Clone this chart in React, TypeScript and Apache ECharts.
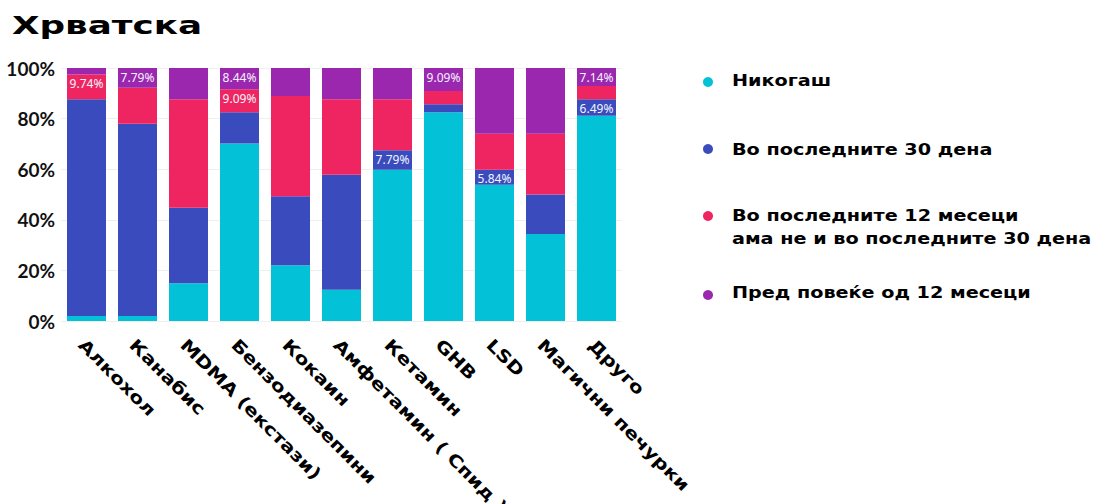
import React, { useEffect, useRef } from "react";
import * as echarts from "echarts";

const title = "Хрватска";
const categories = [
  "Алкохол",
  "Канабис",
  "MDMA (екстази)",
  "Бензодиазепини",
  "Кокаин",
  "Амфетамин ( Спид )",
  "Кетамин",
  "GHB",
  "LSD",
  "Магични печурки",
  "Друго",
];
const seriesNames = [
  "Никогаш",
  "Во последните 30 дена",
  "Во последните 12 месеци ама не и во последните 30 дена",
  "Пред повеќе од 12 месеци",
];
const legendLabels = [
  "Никогаш",
  "Во последните 30 дена",
  "Во последните 12 месеци\nама не и во последните 30 дена",
  "Пред повеќе од 12 месеци",
];
const colors = ["#03C2D7", "#3A4CBD", "#EE2560", "#9B27AF"];

const never = [1.95, 1.95, 14.94, 70.13, 22.08, 12.34, 59.74, 82.47, 53.9, 34.42, 81.17];
const last30 = [85.71, 75.97, 29.87, 12.34, 27.27, 45.45, 7.79, 3.25, 5.84, 15.58, 6.49];
const last12 = [9.74, 14.29, 42.86, 9.09, 39.61, 29.87, 20.13, 5.19, 14.29, 24.03, 5.19];
const older = [2.6, 7.79, 12.34, 8.44, 11.04, 12.34, 12.34, 9.09, 25.97, 25.97, 7.14];

// indices of bars whose segment shows a value label
const shownNever: number[] = [];
const shownLast30 = [6, 8, 10];
const shownLast12 = [0, 3];
const shownOlder = [1, 3, 7, 10];

const HEAVY = "DejaVu Sans";

export default function App() {
  const ref = useRef<HTMLDivElement>(null);
  useEffect(() => {
    document.body.style.margin = "0";
    const chart = echarts.init(ref.current!, null, { renderer: "svg" });
    const mk = (name: string, data: number[], color: string, shown: number[]) => ({
      name,
      type: "bar",
      stack: "total",
      barWidth: 39,
      itemStyle: { color },
      label: {
        show: false,
        position: "insideTop",
        distance: 3,
        color: "#f4f4ff",
        fontFamily: "Noto Sans",
        fontSize: 12,
        formatter: (p: any) => `${Number(p.value).toFixed(2)}%`,
      },
      data: data.map((v, i) => (shown.includes(i) ? { value: v, label: { show: true } } : v)),
    });
    chart.setOption({
      animation: false,
      grid: { left: 61, right: 483, top: 68, bottom: 183 },
      xAxis: {
        type: "category",
        data: categories,
        axisLine: { show: false },
        axisTick: { show: false },
        axisLabel: { show: false },
      },
      yAxis: {
        type: "value",
        min: 0,
        max: 100,
        interval: 20,
        axisLabel: {
          formatter: "{value}%",
          fontFamily: "Lato",
          fontWeight: "bold",
          fontSize: 19,
          color: "#111",
          margin: 6,
        },
        splitLine: { lineStyle: { color: "#efefef" } },
      },
      series: [
        mk(seriesNames[0], never, colors[0], shownNever),
        mk(seriesNames[1], last30, colors[1], shownLast30),
        mk(seriesNames[2], last12, colors[2], shownLast12),
        mk(seriesNames[3], older, colors[3], shownOlder),
      ],
    });

    const y0 = chart.convertToPixel({ yAxisIndex: 0 }, 0) as number;
    const elements: any[] = [];
    elements.push({
      type: "text",
      x: 12,
      y: 25,
      scaleX: 1.43,
      style: {
        text: title,
        fontFamily: HEAVY,
        fontWeight: "bold",
        fontSize: 25,
        fill: "#000",
        align: "left",
        textAlign: "left",
        verticalAlign: "middle",
        textVerticalAlign: "middle",
      },
    });
    categories.forEach((c, i) => {
      const x = chart.convertToPixel({ xAxisIndex: 0 }, i) as number;
      elements.push({
        type: "text",
        x: x - 5,
        y: y0 + 21,
        rotation: -Math.PI / 4,
        scaleX: 1.2,
        style: {
          text: c,
          fontFamily: HEAVY,
          fontWeight: "bold",
          fontSize: 17,
          fill: "#000",
          align: "left",
          textAlign: "left",
          verticalAlign: "middle",
          textVerticalAlign: "middle",
        },
      });
    });
    const dotY = [82, 149, 216, 295];
    const textY = [81, 150, 227.5, 293];
    legendLabels.forEach((t, i) => {
      elements.push({
        type: "circle",
        shape: { cx: 708, cy: dotY[i], r: 5 },
        style: { fill: colors[i] },
      });
      elements.push({
        type: "text",
        x: 732,
        y: textY[i],
        scaleX: 1.2,
        style: {
          text: t,
          fontFamily: HEAVY,
          fontWeight: "bold",
          fontSize: 16,
          lineHeight: 23,
          fill: "#000",
          align: "left",
          textAlign: "left",
          verticalAlign: "middle",
          textVerticalAlign: "middle",
        },
      });
    });
    chart.setOption({ graphic: { elements } });
    return () => chart.dispose();
  }, []);
  return <div ref={ref} style={{ width: 1105, height: 504 }} />;
}
